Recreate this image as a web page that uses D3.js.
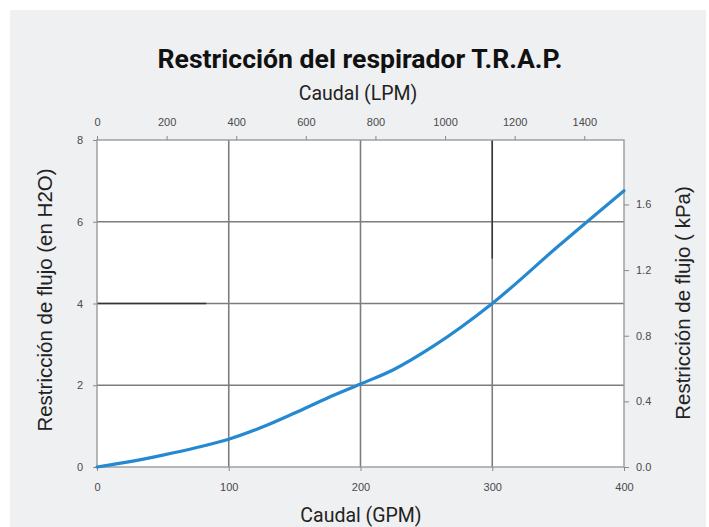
<!DOCTYPE html>
<html><head><meta charset="utf-8">
<script src="https://cdn.jsdelivr.net/npm/d3@7"></script>
<style>
html,body{margin:0;padding:0;background:#fff;}
svg{display:block;}
</style></head>
<body>
<script>
// ---- data ----
const flowGPM = [0, 25, 50, 75, 100, 125, 150, 175, 200, 225, 255, 300, 350, 400];
const restrictionInH2O = [0, 0.13, 0.29, 0.47, 0.68, 0.97, 1.32, 1.69, 2.03, 2.38, 2.95, 4.0, 5.4, 6.76];
const bottomTicks = [0, 100, 200, 300, 400];
const leftTicks = [0, 2, 4, 6, 8];
const topTicksLPM = [0, 200, 400, 600, 800, 1000, 1200, 1400];
const rightTicksKPa = [0.0, 0.4, 0.8, 1.2, 1.6];
const GPM_TO_LPM = 3.78541;
const INH2O_TO_KPA = 0.249089;

const W = 709, H = 527;
const m = {left: 97, right: 85, top: 140, bottom: 60};
const iw = W - m.left - m.right, ih = H - m.top - m.bottom;

const svg = d3.select("body").append("svg").attr("width", W).attr("height", H);
svg.append("rect").attr("x", 10).attr("y", 10).attr("width", 696).attr("height", 517).attr("fill", "#eff0f2");

const x = d3.scaleLinear().domain([0, 400]).range([m.left, m.left + iw]);
const y = d3.scaleLinear().domain([0, 8]).range([m.top + ih, m.top]);
const xTop = d3.scaleLinear().domain([0, 400 * GPM_TO_LPM]).range(x.range());
const yRight = d3.scaleLinear().domain([0, 8 * INH2O_TO_KPA]).range(y.range());

svg.append("rect").attr("x", m.left).attr("y", m.top).attr("width", iw).attr("height", ih).attr("fill", "#fff");

// grid
const g = svg.append("g");
g.selectAll("line.v").data(bottomTicks.filter(d => d > 0 && d < 400)).join("line")
  .attr("x1", d => x(d)).attr("x2", d => x(d)).attr("y1", m.top).attr("y2", m.top + ih)
  .attr("stroke", "#7d7d7d").attr("stroke-width", 1.6);
g.selectAll("line.h").data(leftTicks.filter(d => d > 0 && d < 8)).join("line")
  .attr("x1", m.left).attr("x2", m.left + iw).attr("y1", d => y(d)).attr("y2", d => y(d))
  .attr("stroke", "#7d7d7d").attr("stroke-width", 1.6);
// darker segments seen in the original
g.append("line").attr("x1", x(300)).attr("x2", x(300)).attr("y1", m.top).attr("y2", y(5.1))
  .attr("stroke", "#333").attr("stroke-width", 1.4);
g.append("line").attr("x1", m.left).attr("x2", x(83)).attr("y1", y(4)).attr("y2", y(4))
  .attr("stroke", "#333").attr("stroke-width", 1.4);

// frame
svg.append("rect").attr("x", m.left).attr("y", m.top).attr("width", iw).attr("height", ih)
  .attr("fill", "none").attr("stroke", "#9a9a9a").attr("stroke-width", 1.4);

const tickFont = "'Liberation Sans', Arial, sans-serif";
function styleAxis(sel){
  sel.select(".domain").remove();
  sel.selectAll(".tick line").attr("stroke", "#8a8a8a").attr("stroke-width", 1);
  sel.selectAll(".tick text").attr("fill", "#4a4a4a").style("font-family", tickFont).style("font-size", "11px");
}
svg.append("g").attr("transform", `translate(0,${m.top + ih})`)
  .call(d3.axisBottom(x).tickValues(bottomTicks).tickSize(4).tickPadding(12)).call(styleAxis);
svg.append("g").attr("transform", `translate(${m.left},0)`)
  .call(d3.axisLeft(y).tickValues(leftTicks).tickSize(4).tickPadding(10)).call(styleAxis);
svg.append("g").attr("transform", `translate(0,${m.top})`)
  .call(d3.axisTop(xTop).tickValues(topTicksLPM).tickFormat(d3.format("d")).tickSize(4).tickPadding(10)).call(styleAxis);
svg.append("g").attr("transform", `translate(${m.left + iw},0)`)
  .call(d3.axisRight(yRight).tickValues(rightTicksKPa).tickFormat(d3.format(".1f")).tickSize(5).tickPadding(7)).call(styleAxis);

// curve
const pts = flowGPM.map((d, i) => [d, restrictionInH2O[i]]);
svg.append("path").datum(pts)
  .attr("d", d3.line().x(d => x(d[0])).y(d => y(d[1])).curve(d3.curveMonotoneX))
  .attr("fill", "none").attr("stroke", "#2589d2").attr("stroke-width", 3.2).attr("stroke-linecap", "round");

// titles
svg.append("text").attr("x", 360).attr("y", 68).attr("text-anchor", "middle")
  .style("font-family", "Roboto, sans-serif").style("font-weight", "bold").style("font-size", "26px")
  .attr("textLength", 405).attr("lengthAdjust", "spacingAndGlyphs")
  .attr("fill", "#111").text("Restricción del respirador T.R.A.P.");
svg.append("text").attr("x", 358).attr("y", 100).attr("text-anchor", "middle")
  .style("font-family", "Roboto, sans-serif").style("font-size", "19.5px").attr("fill", "#222")
  .text("Caudal (LPM)");
svg.append("text").attr("x", 361).attr("y", 522).attr("text-anchor", "middle")
  .style("font-family", "Roboto, sans-serif").style("font-size", "19.5px").attr("fill", "#222")
  .text("Caudal (GPM)");
svg.append("text").attr("transform", `translate(52,300) rotate(-90)`).attr("text-anchor", "middle")
  .style("font-family", "'Liberation Sans', Arial, sans-serif").style("font-size", "20.5px").attr("fill", "#222")
  .text("Restricción de flujo (en H2O)");
svg.append("text").attr("transform", `translate(690,303) rotate(-90)`).attr("text-anchor", "middle")
  .style("font-family", "'Liberation Sans', Arial, sans-serif").style("font-size", "20.5px").attr("fill", "#222")
  .text("Restricción de flujo ( kPa)");
</script>
</body></html>
